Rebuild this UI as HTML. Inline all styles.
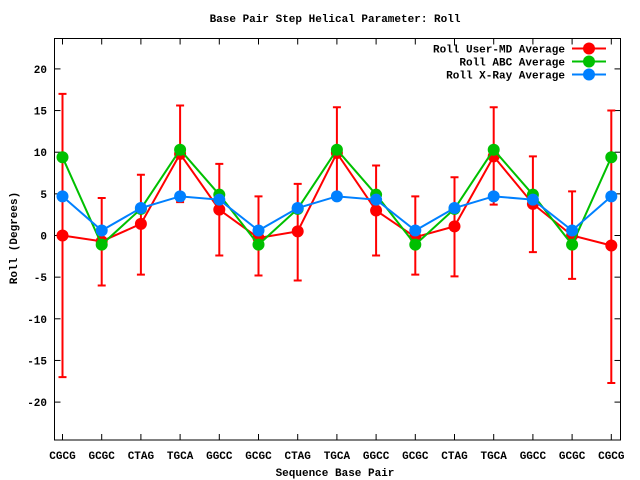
<!DOCTYPE html>
<html><head><meta charset="utf-8"><style>
html,body{margin:0;padding:0;background:#fff;width:640px;height:480px;overflow:hidden}
text{font-family:"Liberation Mono","DejaVu Sans Mono",monospace;font-weight:bold;font-size:11px;fill:#000}
</style></head><body>
<svg id="s" width="640" height="480" xmlns="http://www.w3.org/2000/svg"></svg>
<script>
var s=document.getElementById('s'),h='';
var L=54.5,R=620.5,T=38.5,B=440;
function X(i){return 62.5+i*39.2}
function Y(v){return 235.5-8.33*v}
h+='<text x="335" y="22" text-anchor="middle">Base Pair Step Helical Parameter: Roll</text>';
h+='<text x="335" y="476" text-anchor="middle">Sequence Base Pair</text>';
h+='<text transform="translate(17,238) rotate(-90)" text-anchor="middle">Roll (Degrees)</text>';
for(var v=-20;v<=20;v+=5){var y=Y(v);h+='<line x1="'+L+'" x2="'+(L+6)+'" y1="'+y+'" y2="'+y+'" stroke="#000"/><line x1="'+R+'" x2="'+(R-6)+'" y1="'+y+'" y2="'+y+'" stroke="#000"/><text x="47" y="'+(y+4)+'" text-anchor="end">'+v+'</text>';}
var lab=['CGCG','GCGC','CTAG','TGCA','GGCC','GCGC','CTAG','TGCA','GGCC','GCGC','CTAG','TGCA','GGCC','GCGC','CGCG'];
for(var i=0;i<15;i++){var x=X(i);h+='<line x1="'+x+'" x2="'+x+'" y1="'+B+'" y2="'+(B-6)+'" stroke="#000"/><line x1="'+x+'" x2="'+x+'" y1="'+T+'" y2="'+(T+6)+'" stroke="#000"/><text x="'+x+'" y="459" text-anchor="middle">'+lab[i]+'</text>';}
h+='<rect x="'+L+'" y="'+T+'" width="'+(R-L)+'" height="'+(B-T)+'" fill="none" stroke="#000"/>';
var red=[0,-0.7,1.4,9.8,3.1,-0.3,0.5,9.9,3.0,-0.2,1.1,9.5,3.8,0,-1.2];
var err=[[-17,17],[-6,4.5],[-4.7,7.3],[4,15.6],[-2.4,8.6],[-4.8,4.7],[-5.4,6.2],[4.3,15.4],[-2.4,8.4],[-4.7,4.7],[-4.9,7],[3.7,15.4],[-2,9.5],[-5.2,5.3],[-17.7,15]];
var g=[9.4,-1.1,3.2,10.3,4.9,-1.1,3.2,10.3,4.9,-1.1,3.2,10.3,4.9,-1.1,9.4];
var b=[4.7,0.6,3.3,4.7,4.3,0.6,3.3,4.7,4.3,0.6,3.3,4.7,4.3,0.6,4.7];
function ser(d,c){var p='';for(var i=0;i<15;i++)p+=(i?'L':'M')+X(i)+' '+Y(d[i]);h+='<path d="'+p+'" fill="none" stroke="'+c+'" stroke-width="2"/>';for(var i=0;i<15;i++)h+='<circle cx="'+X(i)+'" cy="'+Y(d[i])+'" r="6" fill="'+c+'"/>';}
for(var i=0;i<15;i++){var x=X(i),y1=Y(err[i][0]),y2=Y(err[i][1]);h+='<path d="M'+x+' '+y1+'V'+y2+'M'+(x-4)+' '+y1+'H'+(x+4)+'M'+(x-4)+' '+y2+'H'+(x+4)+'" stroke="#f00" stroke-width="2" fill="none"/>';}
ser(red,'#f00');ser(g,'#00c000');ser(b,'#0080ff');
var leg=[['Roll User-MD Average','#f00'],['Roll ABC Average','#00c000'],['Roll X-Ray Average','#0080ff']];
for(var k=0;k<3;k++){var y=48.5+13*k;h+='<text x="565" y="'+(y+4)+'" text-anchor="end">'+leg[k][0]+'</text><line x1="572" x2="606" y1="'+y+'" y2="'+y+'" stroke="'+leg[k][1]+'" stroke-width="2"/><circle cx="589" cy="'+y+'" r="6" fill="'+leg[k][1]+'"/>';}
s.innerHTML=h;
</script>
</body></html>
